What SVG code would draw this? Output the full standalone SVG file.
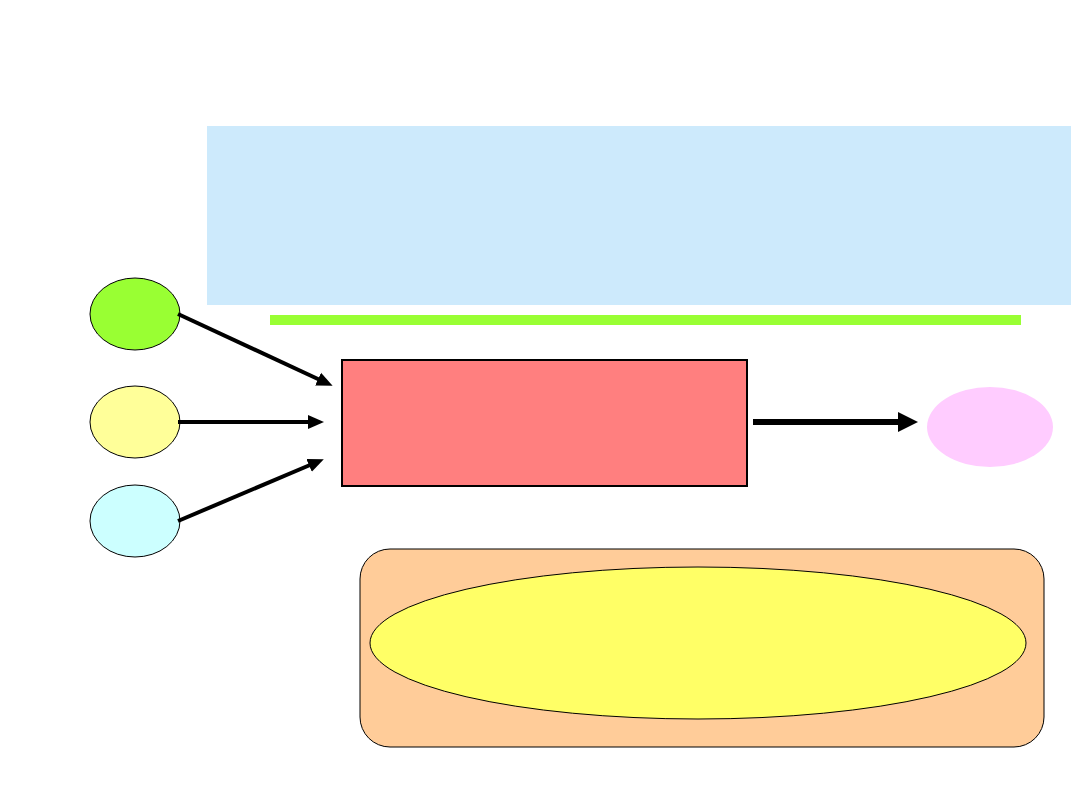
<svg xmlns="http://www.w3.org/2000/svg" width="1080" height="810" viewBox="0 0 1080 810">
<style>
.node{stroke:#000;stroke-width:1}
.conn{stroke:#000;fill:none}
</style>
<defs>
<marker id="ah" markerUnits="userSpaceOnUse" markerWidth="20" markerHeight="20" refX="1" refY="10" orient="auto">
<path d="M0,3 L16,10 L0,17 Z" fill="#000"/>
</marker>
<marker id="ah2" markerUnits="userSpaceOnUse" markerWidth="24" markerHeight="24" refX="1" refY="12" orient="auto">
<path d="M0,2 L20,12 L0,22 Z" fill="#000"/>
</marker>
</defs>
<rect width="1080" height="810" fill="#fff"/>
<g id="title-box"><rect x="207" y="126" width="864" height="179" fill="#cdeafc"/></g>
<g id="green-bar"><rect x="270" y="315" width="751" height="10" fill="#99ff33"/></g>
<g id="input1"><ellipse class="node" cx="135" cy="314" rx="45" ry="36" fill="#99ff33"/></g>
<g id="input2"><ellipse class="node" cx="135" cy="422" rx="45" ry="36" fill="#ffff99"/></g>
<g id="input3"><ellipse class="node" cx="135" cy="521" rx="45" ry="36" fill="#ccffff"/></g>
<g id="process"><rect x="342" y="360" width="405" height="126" fill="#ff7f7f" stroke="#000" stroke-width="2"/></g>
<g id="output"><ellipse cx="990" cy="427" rx="63" ry="40" fill="#ffccff"/></g>
<g id="bottom-box"><rect class="node" x="360" y="549" width="684" height="198" rx="30" ry="30" fill="#ffcc99"/></g>
<g id="bottom-ellipse"><ellipse class="node" cx="698" cy="643" rx="328" ry="76" fill="#ffff66"/></g>
<g id="connectors">
<line class="conn" x1="178" y1="314" x2="319" y2="379.5" stroke-width="4" marker-end="url(#ah)"/>
<line class="conn" x1="178" y1="422" x2="309" y2="422" stroke-width="4" marker-end="url(#ah)"/>
<line class="conn" x1="178" y1="521" x2="310" y2="465" stroke-width="4" marker-end="url(#ah)"/>
<line class="conn" x1="753" y1="422" x2="899" y2="422" stroke-width="6" marker-end="url(#ah2)"/>
</g>
</svg>
